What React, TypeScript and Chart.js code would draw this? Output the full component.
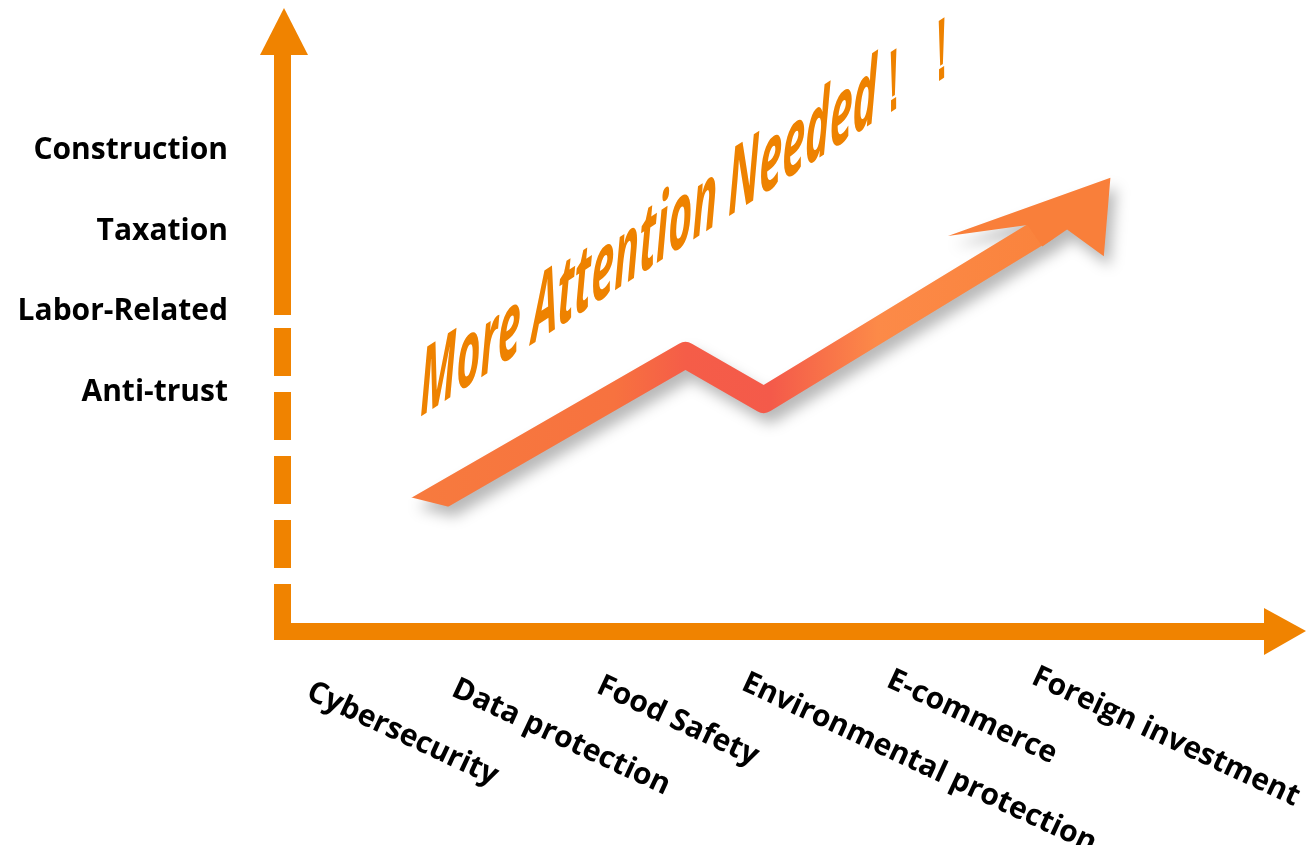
import React, { useEffect, useRef } from 'react';
import { Chart, registerables } from 'chart.js';

Chart.register(...registerables);

// ---- data ----
const xCategories = ['Cybersecurity', 'Data protection', 'Food Safety', 'Environmental protection', 'E-commerce', 'Foreign investment'];
const yCategories = ['Anti-trust', 'Labor-Related', 'Taxation', 'Construction'];
const yCategoryLevels = [3, 4, 5, 6];
const trendX = [0.645, 2.61, 3.15, 5.1];
const trendY = [1.39, 3.43, 2.87, 5.01];
const arrowTipX = 5.56;
const arrowTipY = 5.58;
const noteMain = 'More Attention Needed';
const noteMarks = '！ ！';
const noteX = 0.78;
const noteY = 2.66;

const ORANGE = '#F08300';

function geometry(chart: any) {
  const xs = chart.scales.x;
  const ys = chart.scales.y;
  const line = trendX.map((x, i) => [xs.getPixelForValue(x), ys.getPixelForValue(trendY[i])]);
  // slanted start cut
  const [sx0, sy0] = line[0];
  const [sx1, sy1] = line[1];
  const L = Math.hypot(sx1 - sx0, sy1 - sy0);
  const cx = sx0 + ((sx1 - sx0) / L) * 34;
  const cy = sy0 + ((sy1 - sy0) / L) * 34;
  const kx = 0.97;
  const ky = 0.243;
  const clip = [
    [cx - kx * 200, cy - ky * 200],
    [cx + kx * 2000, cy + ky * 2000],
    [cx + kx * 2000, -3000],
    [cx - kx * 200, -3000],
  ];
  // arrow head
  const [ex, ey] = line[line.length - 1];
  const tx = xs.getPixelForValue(arrowTipX);
  const ty = ys.getPixelForValue(arrowTipY);
  const dx = tx - ex;
  const dy = ty - ey;
  const len = Math.hypot(dx, dy);
  const ux = dx / len;
  const uy = dy / len;
  const nx = uy;
  const ny = -ux;
  const P = (a: number, b: number) => [ex + ux * a + nx * b, ey + uy * a + ny * b];
  const head = [P(len, 5), P(-86, 49), P(-14, 13), P(-14, -13), P(16, -13), P(31, -56)];
  return { line, clip, head };
}

function polyPath(ctx: CanvasRenderingContext2D, pts: number[][], close: boolean) {
  ctx.beginPath();
  ctx.moveTo(pts[0][0], pts[0][1]);
  for (let i = 1; i < pts.length; i++) ctx.lineTo(pts[i][0], pts[i][1]);
  if (close) ctx.closePath();
}

const decorPlugin = {
  id: 'decor',
  beforeDatasetsDraw(chart: any) {
    const { ctx, chartArea } = chart;
    const { left, top, bottom, right } = chartArea;
    const xs = chart.scales.x;
    const ys = chart.scales.y;
    ctx.save();
    ctx.fillStyle = ORANGE;
    // vertical axis arrow head
    ctx.beginPath();
    ctx.moveTo(left + 2, top);
    ctx.lineTo(left + 26, top + 47);
    ctx.lineTo(left - 22, top + 47);
    ctx.closePath();
    ctx.fill();
    // solid shaft
    ctx.fillRect(left - 8, top + 46, 17, 315 - (top + 46));
    // dashed part
    let y = 328;
    while (y + 48 < bottom) {
      ctx.fillRect(left - 8, y, 17, 48);
      y += 64;
    }
    ctx.fillRect(left - 8, y, 17, bottom + 9 - y);
    // horizontal axis
    const headBase = right - 36;
    ctx.fillRect(left - 8, bottom - 8, headBase - (left - 8), 17);
    ctx.beginPath();
    ctx.moveTo(headBase, bottom - 23);
    ctx.lineTo(right + 6, bottom);
    ctx.lineTo(headBase, bottom + 24);
    ctx.closePath();
    ctx.fill();
    ctx.restore();

    // y labels
    ctx.save();
    ctx.font = 'bold 30px "Open Sans"';
    ctx.fillStyle = '#000';
    ctx.textAlign = 'right';
    ctx.textBaseline = 'alphabetic';
    yCategories.forEach((lab, i) => {
      ctx.fillText(lab, left - 54, ys.getPixelForValue(yCategoryLevels[i]) + 11);
    });
    ctx.restore();

    // note text
    ctx.save();
    ctx.font = 'italic 700 92px "Open Sans"';
    const w = ctx.measureText(noteMain).width;
    const sx = 457 / w;
    ctx.translate(xs.getPixelForValue(noteX), ys.getPixelForValue(noteY));
    ctx.transform(sx, -0.65 * sx, 0, 1, 0, 0);
    ctx.fillStyle = '#EE8200';
    ctx.textBaseline = 'alphabetic';
    ctx.textAlign = 'left';
    ctx.fillText(noteMain, 0, 0);
    ctx.font = '700 84px "Open Sans"';
    ctx.fillText(noteMarks, w - 4, 0);
    ctx.restore();

    // x labels
    ctx.save();
    ctx.font = 'bold 30px "Open Sans"';
    ctx.fillStyle = '#000';
    ctx.textAlign = 'left';
    ctx.textBaseline = 'alphabetic';
    xCategories.forEach((lab, i) => {
      const px = xs.getPixelForValue(i);
      ctx.save();
      ctx.translate(px - 2, bottom + 67 - 3 * i);
      ctx.rotate((25 * Math.PI) / 180);
      ctx.fillText(lab, 0, 0);
      ctx.restore();
    });
    ctx.restore();
  },
  beforeDatasetDraw(chart: any) {
    const ctx: CanvasRenderingContext2D = chart.ctx;
    const g = geometry(chart);
    // soft drop shadow for stroke + head, drawn as one layer
    const off = document.createElement('canvas');
    off.width = chart.width;
    off.height = chart.height;
    const o = off.getContext('2d')!;
    o.save();
    polyPath(o, g.clip, true);
    o.clip();
    o.strokeStyle = '#000';
    o.lineWidth = 26;
    o.lineJoin = 'round';
    o.lineCap = 'butt';
    polyPath(o, g.line, false);
    o.stroke();
    o.restore();
    o.fillStyle = '#000';
    polyPath(o, g.head, true);
    o.fill();
    ctx.save();
    ctx.globalAlpha = 0.28;
    ctx.filter = 'blur(7px)';
    ctx.drawImage(off, 6, 10);
    ctx.restore();

    ctx.save();
    polyPath(ctx, g.clip, true);
    ctx.clip();
    ctx.filter = 'blur(0.6px)';
  },
  afterDatasetDraw(chart: any) {
    const ctx: CanvasRenderingContext2D = chart.ctx;
    const g = geometry(chart);
    polyPath(ctx, g.head, true);
    ctx.fillStyle = '#F97F3A';
    ctx.fill();
    ctx.restore();
  },
};

export default function App() {
  const ref = useRef<HTMLCanvasElement>(null);
  useEffect(() => {
    const canvas = ref.current!;
    const chart = new Chart(canvas, {
      type: 'line',
      data: {
        datasets: [
          {
            data: trendX.map((x, i) => ({ x, y: trendY[i] })),
            borderWidth: 26,
            borderCapStyle: 'butt',
            borderJoinStyle: 'round',
            pointRadius: 0,
            tension: 0,
            borderColor: (c: any) => {
              const ch = c.chart;
              const { ctx, chartArea } = ch;
              if (!chartArea) return '#F77A3D';
              const xs = ch.scales.x;
              const x0 = xs.getPixelForValue(trendX[0]);
              const x1 = xs.getPixelForValue(arrowTipX);
              const g = ctx.createLinearGradient(x0, 0, x1, 0);
              g.addColorStop(0, '#F77B3E');
              g.addColorStop(0.3, '#F7723F');
              g.addColorStop(0.4, '#F55D48');
              g.addColorStop(0.52, '#F45A4A');
              g.addColorStop(0.67, '#FC8A48');
              g.addColorStop(1, '#F98038');
              return g;
            },
          } as any,
        ],
      },
      options: {
        responsive: false,
        animation: false,
        events: [],
        layout: { padding: { top: 8, bottom: 214, left: 282, right: 6 } },
        plugins: { legend: { display: false }, tooltip: { enabled: false } },
        scales: {
          x: { type: 'linear', min: -0.1724, max: 6.848, display: false },
          y: { type: 'linear', min: 0, max: 7.74, display: false },
        },
      },
      plugins: [decorPlugin],
    });
    return () => chart.destroy();
  }, []);
  return (
    <div style={{ position: 'fixed', left: 0, top: 0, width: 1306, height: 845, background: '#fff' }}>
      <canvas ref={ref} width={1306} height={845} style={{ display: 'block' }} />
    </div>
  );
}
